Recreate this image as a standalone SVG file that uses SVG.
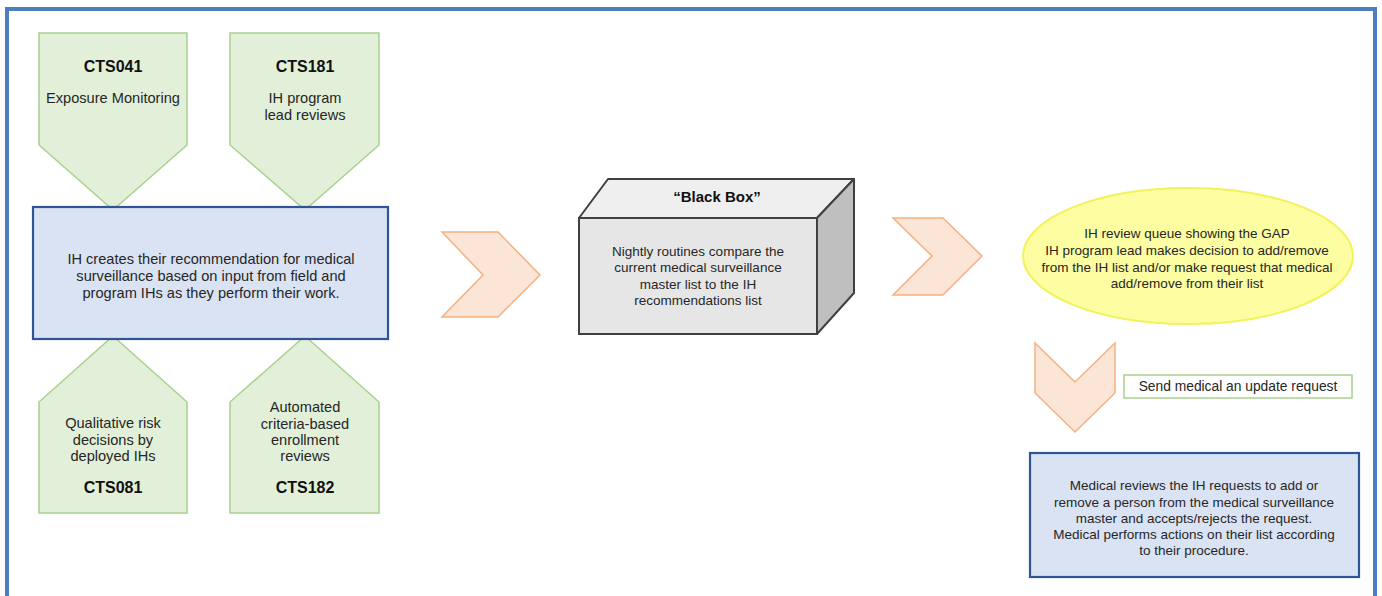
<svg xmlns="http://www.w3.org/2000/svg" width="1382" height="596" viewBox="0 0 1382 596">
<style>
  text { font-family: "Liberation Sans", Arial, sans-serif; fill: #262626; text-anchor: middle; }
  .t { font-size: 13.5px; }
  .l { font-size: 14.6px; }
  .b { font-size: 16px; font-weight: bold; fill: #111; }
  .green { fill: #e2f0d9; stroke: #a9d18e; stroke-width: 1.5; }
  .blue { fill: #dae3f3; stroke: #2f5597; stroke-width: 2.2; }
  .chev { fill: #fbe5d6; stroke: #f4b183; stroke-width: 1.5; }
</style>
<rect x="0" y="0" width="1382" height="596" fill="#ffffff"/>
<rect x="7" y="9" width="1368" height="600" fill="none" stroke="#4a7ebf" stroke-width="4"/>

<g id="cts041">
  <polygon class="green" points="39,33 187,33 187,145 113,210 39,145"/>
  <text class="b" x="113" y="72">CTS041</text>
  <text class="l" x="113" y="103">Exposure Monitoring</text>
</g>
<g id="cts181">
  <polygon class="green" points="230,33 379,33 379,145 305,210 230,145"/>
  <text class="b" x="305" y="72">CTS181</text>
  <text class="l" x="305" y="103">IH program</text>
  <text class="l" x="305" y="120">lead reviews</text>
</g>
<g id="cts081">
  <polygon class="green" points="39,402 113,336 187,402 187,513 39,513"/>
  <text class="l" x="113" y="428">Qualitative risk</text>
  <text class="l" x="113" y="445">decisions by</text>
  <text class="l" x="113" y="461">deployed IHs</text>
  <text class="b" x="113" y="493">CTS081</text>
</g>
<g id="cts182">
  <polygon class="green" points="230,402 305,336 379,402 379,513 230,513"/>
  <text class="l" x="305" y="412">Automated</text>
  <text class="l" x="305" y="429">criteria-based</text>
  <text class="l" x="305" y="445">enrollment</text>
  <text class="l" x="305" y="461">reviews</text>
  <text class="b" x="305" y="493">CTS182</text>
</g>
<g id="ih-creates">
  <rect class="blue" x="33" y="207" width="355" height="132"/>
  <text class="l" x="211" y="264">IH creates their recommendation  for medical</text>
  <text class="l" x="211" y="281">surveillance based on input from field and</text>
  <text class="l" x="211" y="298">program IHs as they perform their work.</text>
</g>

<g id="black-box">
  <polygon points="579,218 608,179 854,179 817,218" fill="#efefef" stroke="#404040" stroke-width="2" stroke-linejoin="round"/>
  <polygon points="817,218 854,179 854,293 817,334" fill="#bfbfbf" stroke="#404040" stroke-width="2" stroke-linejoin="round"/>
  <rect x="579" y="218" width="238" height="116" fill="#e7e6e6" stroke="#404040" stroke-width="2"/>
  <text x="717" y="202" style="font-size:15px;font-weight:bold;fill:#111">“Black Box”</text>
  <text class="t" x="698" y="256">Nightly routines compare the</text>
  <text class="t" x="698" y="272">current medical surveillance</text>
  <text class="t" x="698" y="289">master list to the IH</text>
  <text class="t" x="698" y="305">recommendations  list</text>
</g>

<g id="review-queue">
  <ellipse cx="1188" cy="256" rx="165" ry="68" fill="#fdfda2" stroke="#f2f25a" stroke-width="2"/>
  <text class="t" x="1187" y="238">IH review queue showing the GAP</text>
  <text class="t" x="1187" y="255">IH program  lead makes decision to add/remove</text>
  <text class="t" x="1187" y="272">from the IH list and/or make request that medical</text>
  <text class="t" x="1187" y="288">add/remove  from their list</text>
</g>

<g id="send-request">
  <rect x="1124" y="375" width="228" height="23" fill="#ffffff" stroke="#a9d18e" stroke-width="1.5"/>
  <text class="t" x="1238" y="391" style="font-size:13.8px">Send medical an update request</text>
</g>

<g id="medical-reviews">
  <rect class="blue" x="1030" y="453" width="329" height="124"/>
  <text class="t" x="1194" y="490">Medical reviews the IH requests to add or</text>
  <text class="t" x="1194" y="507">remove a person from the medical surveillance</text>
  <text class="t" x="1194" y="523">master and accepts/rejects the request.</text>
  <text class="t" x="1194" y="539">Medical performs  actions on their list according</text>
  <text class="t" x="1194" y="555">to their procedure.</text>
</g>

<g id="connectors">
  <polygon class="chev" points="442,232 498,232 540,275 498,317 442,317 483,275"/>
  <polygon class="chev" points="893,218 943,218 982,256 943,295 893,295 932,256"/>
  <polygon class="chev" points="1035,343 1075,382 1115,343 1115,393 1075,432 1035,393"/>
</g>
</svg>
